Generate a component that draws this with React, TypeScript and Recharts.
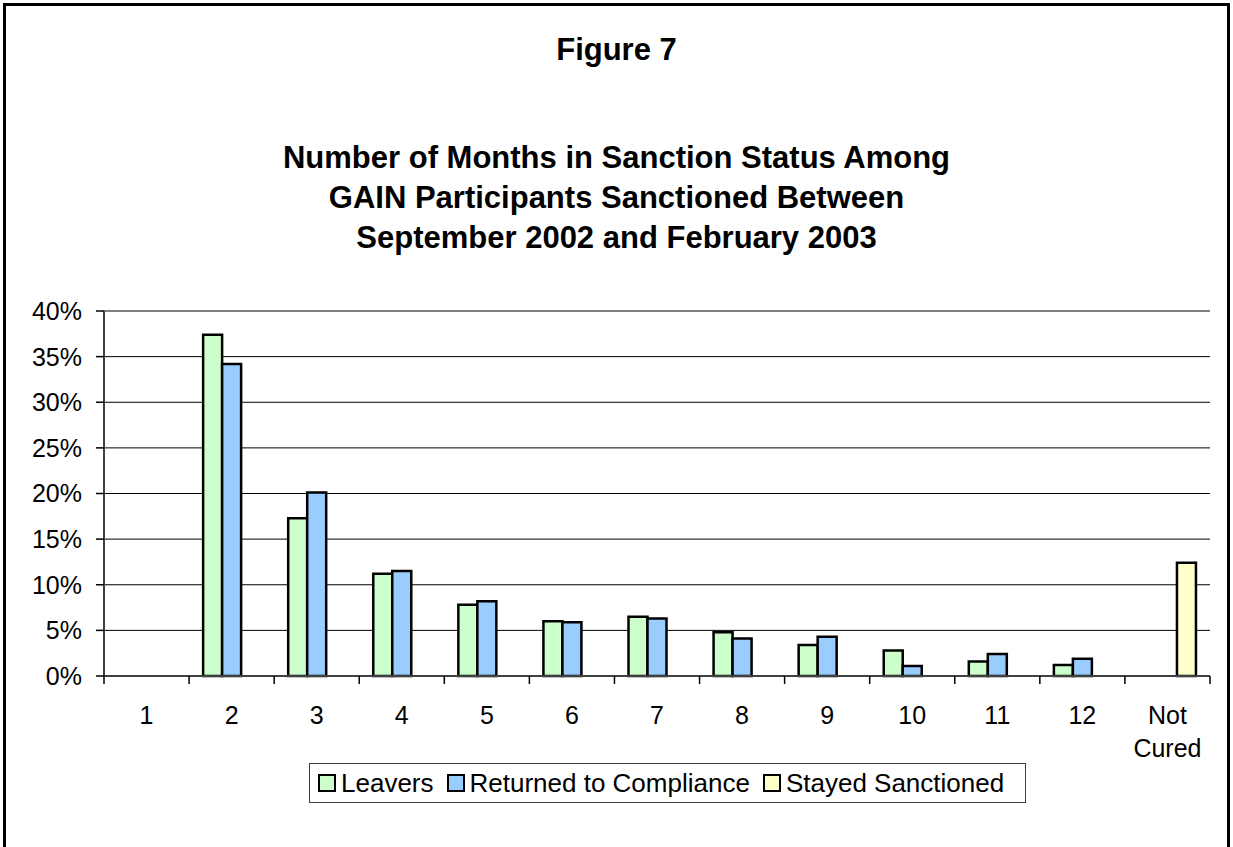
import { BarChart, Bar, XAxis, YAxis, CartesianGrid, ReferenceLine } from 'recharts';

const months = ['1', '2', '3', '4', '5', '6', '7', '8', '9', '10', '11', '12', 'Not Cured'];
const leavers = [null, 37.4, 17.3, 11.2, 7.8, 6.0, 6.5, 4.8, 3.4, 2.8, 1.6, 1.2, null];
const returned = [null, 34.2, 20.1, 11.5, 8.2, 5.9, 6.3, 4.1, 4.3, 1.1, 2.4, 1.9, null];
const stayed = [null, null, null, null, null, null, null, null, null, null, null, null, 12.4];
const yTicks = [0, 5, 10, 15, 20, 25, 30, 35, 40];

const titleLines = [
  'Number of Months in Sanction Status Among',
  'GAIN Participants Sanctioned Between',
  'September 2002 and February 2003',
];

const series = [
  { key: 'leavers', name: 'Leavers', color: '#CCFFCC' },
  { key: 'returned', name: 'Returned to Compliance', color: '#99CCFF' },
  { key: 'stayed', name: 'Stayed Sanctioned', color: '#FFFFCC' },
];

const data = months.map((m, i) => ({
  month: m,
  leavers: leavers[i],
  returned: returned[i],
  stayed: stayed[i],
}));

const FONT = '"Liberation Sans", Arial, sans-serif';

// category label plus a tick mark on the left edge of each band
function MonthTick(props: any) {
  const { x, y, payload, index } = props;
  const half = payload.offset ?? 0;
  const lines = String(payload.value).split(' ');
  return (
    <g>
      <line x1={x - half} x2={x - half} y1={y} y2={y + 8} stroke="#000" strokeWidth={1.5} />
      {index === months.length - 1 && (
        <line x1={x + half} x2={x + half} y1={y} y2={y + 8} stroke="#000" strokeWidth={1.5} />
      )}
      <text x={x} y={y + 48} textAnchor="middle" fontSize={25} fontFamily={FONT} fill="#000">
        {lines.map((l, i) => (
          <tspan key={i} x={x} dy={i === 0 ? 0 : 33}>
            {l}
          </tspan>
        ))}
      </text>
    </g>
  );
}

export default function App() {
  return (
    <div
      style={{
        position: 'absolute',
        left: 0,
        top: 0,
        width: 1233,
        height: 847,
        overflow: 'hidden',
        background: '#fff',
        fontFamily: FONT,
      }}
    >
      <div
        style={{
          position: 'absolute',
          left: 3,
          top: 3,
          width: 1227,
          height: 880,
          border: '3px solid #000',
          boxSizing: 'border-box',
        }}
      />
      <div
        style={{
          position: 'absolute',
          left: 0,
          width: 1233,
          top: 30,
          lineHeight: '40px',
          textAlign: 'center',
          fontWeight: 'bold',
          fontSize: 31,
        }}
      >
        Figure 7
      </div>
      <div
        style={{
          position: 'absolute',
          left: 0,
          width: 1233,
          top: 138,
          lineHeight: '40px',
          textAlign: 'center',
          fontWeight: 'bold',
          fontSize: 31,
        }}
      >
        {titleLines.map((t) => (
          <div key={t}>{t}</div>
        ))}
      </div>

      <div style={{ position: 'absolute', left: 0, top: 0 }}>
        <BarChart
          width={1233}
          height={847}
          data={data}
          margin={{ top: 311, right: 23, bottom: 81, left: 0 }}
          barGap={0}
          barCategoryGap="16.5%"
        >
          <CartesianGrid vertical={false} stroke="#000" strokeWidth={1} />
          <XAxis
            dataKey="month"
            height={90}
            interval={0}
            tickLine={false}
            tickSize={0}
            tickMargin={0}
            axisLine={{ stroke: '#404040', strokeWidth: 2 }}
            tick={<MonthTick />}
          />
          <YAxis
            width={104}
            domain={[0, 40]}
            ticks={yTicks}
            interval={0}
            tickFormatter={(v) => `${v}%`}
            tickSize={8}
            tickMargin={14}
            tickLine={{ stroke: '#000', strokeWidth: 1.5 }}
            axisLine={{ stroke: '#404040', strokeWidth: 2 }}
            tick={{ fontSize: 25, fontFamily: FONT, fill: '#000' }}
          />
          <YAxis
            yAxisId="frame"
            orientation="right"
            width={0}
            domain={[0, 40]}
            tick={false}
            tickLine={false}
            axisLine={{ stroke: '#808080', strokeWidth: 2 }}
          />
          <ReferenceLine y={40} stroke="#808080" strokeWidth={2} />
          {series.map((s) => (
            <Bar
              key={s.key}
              dataKey={s.key}
              name={s.name}
              fill={s.color}
              stroke="#000"
              strokeWidth={2.5}
              isAnimationActive={false}
            />
          ))}
        </BarChart>
      </div>

      <div
        style={{
          position: 'absolute',
          left: 309,
          top: 763,
          width: 717,
          height: 40,
          border: '1px solid #404040',
          boxSizing: 'border-box',
          display: 'flex',
          alignItems: 'center',
          paddingLeft: 8,
          fontSize: 26,
          whiteSpace: 'nowrap',
        }}
      >
        {series.map((s) => (
          <div key={s.key} style={{ display: 'flex', alignItems: 'center', marginRight: 13 }}>
            <div
              style={{
                width: 18,
                height: 18,
                background: s.color,
                border: '2px solid #000',
                boxSizing: 'border-box',
                marginRight: 5,
              }}
            />
            <span>{s.name}</span>
          </div>
        ))}
      </div>
    </div>
  );
}
